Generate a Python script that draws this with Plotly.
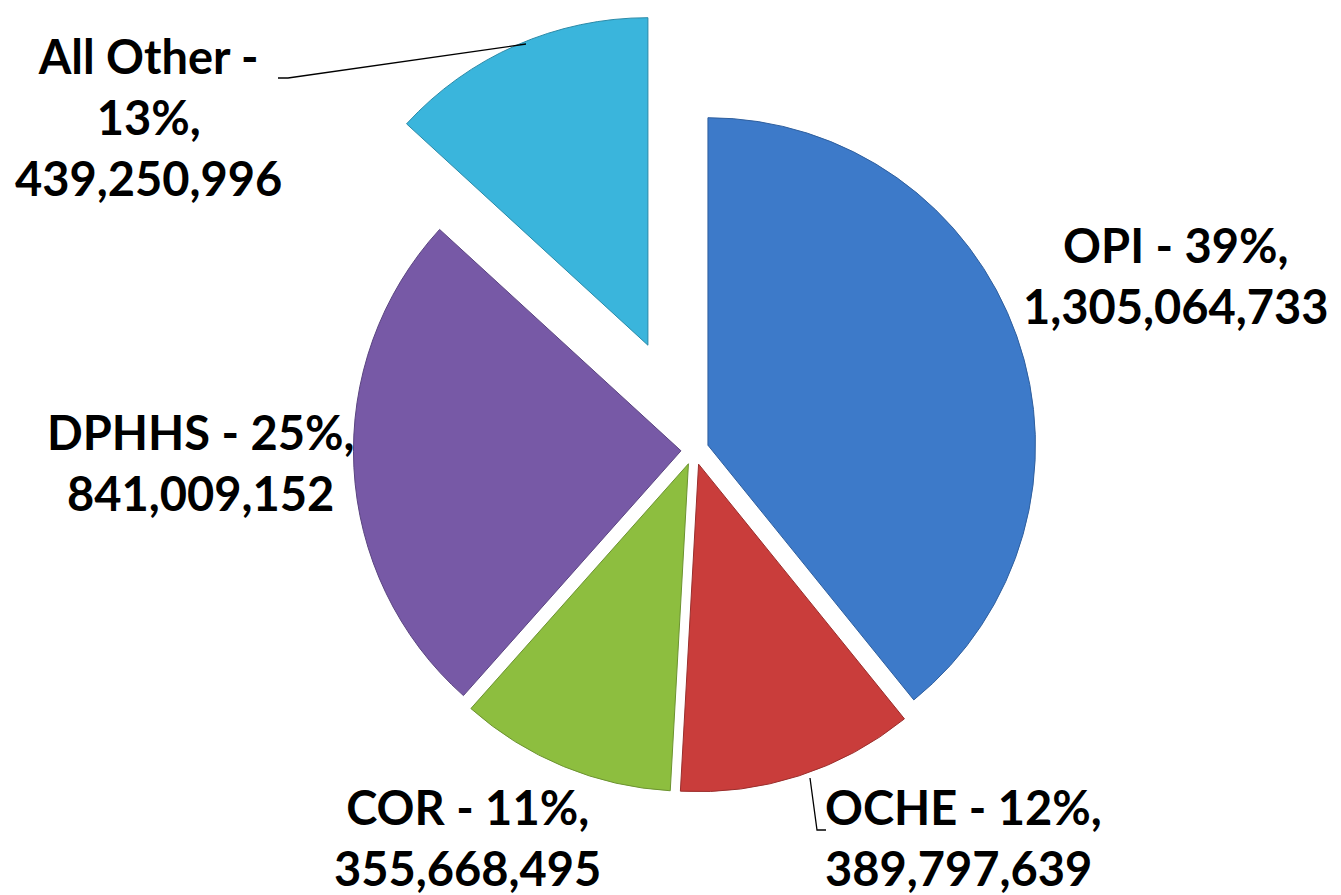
import plotly.graph_objects as go

# %% Data
agencies = ["OPI", "OCHE", "COR", "DPHHS", "All Other"]
amounts = [1305064733, 389797639, 355668495, 841009152, 439250996]
percent_labels = ["39%", "12%", "11%", "25%", "13%"]
slice_colors = ["#3D7AC9", "#C93D3B", "#8DBE3F", "#7759A6", "#3AB5DC"]
edge_colors = ["#2F5F9E", "#9A2E2C", "#6C9330", "#5A4480", "#2A8AA8"]
slice_pull = [0.045, 0.045, 0.045, 0.04, 0.35]

# label placement (pixels from top-left, margins are zero) and line breaks
W, H = 1341, 895
label_px = [1168, 815, 459, 192, 140]
label_py = [267, 829, 829, 454, 109]
label_anchor = ["center", "left", "center", "center", "center"]
label_breaks = [[" - ", "<br>"], [" - ", "<br>"], [" - ", "<br>"], [" - ", "<br>"], [" -<br>", "<br>"]]

# leader lines, pixels
leader_paths = [
    [(270, 70), (280, 70), (518, 36)],
    [(802, 770), (809, 822), (818, 822)],
]

# %% Figure
fig = go.Figure(
    go.Pie(
        labels=agencies,
        values=amounts,
        sort=False,
        direction="clockwise",
        rotation=0,
        pull=slice_pull,
        textinfo="none",
        hoverinfo="label+value+percent",
        marker=dict(colors=slice_colors, line=dict(color=edge_colors, width=1)),
        domain=dict(x=[0.1783, 0.8449], y=[0.012, 1]),
        showlegend=False,
    )
)

for name, amt, pct, px, py, anchor, br in zip(
    agencies, amounts, percent_labels, label_px, label_py, label_anchor, label_breaks
):
    fig.add_annotation(
        text=f"{name}{br[0]}{pct},{br[1]}{amt:,}",
        x=px / W,
        y=1 - py / H,
        xref="paper",
        yref="paper",
        xanchor=anchor,
        yanchor="middle",
        align=anchor,
        showarrow=False,
        font=dict(family="Lato", size=47, color="#000000", weight="bold"),
    )

for pts in leader_paths:
    path = " ".join(
        ("M" if i == 0 else "L") + f" {x / W:.5f} {1 - y / H:.5f}"
        for i, (x, y) in enumerate(pts)
    )
    fig.add_shape(
        type="path",
        path=path,
        xref="paper",
        yref="paper",
        line=dict(color="#000000", width=1.3),
    )

fig.update_layout(
    width=W,
    height=H,
    margin=dict(l=0, r=0, t=0, b=0),
    paper_bgcolor="white",
    plot_bgcolor="white",
)

fig.write_html("out.html")
